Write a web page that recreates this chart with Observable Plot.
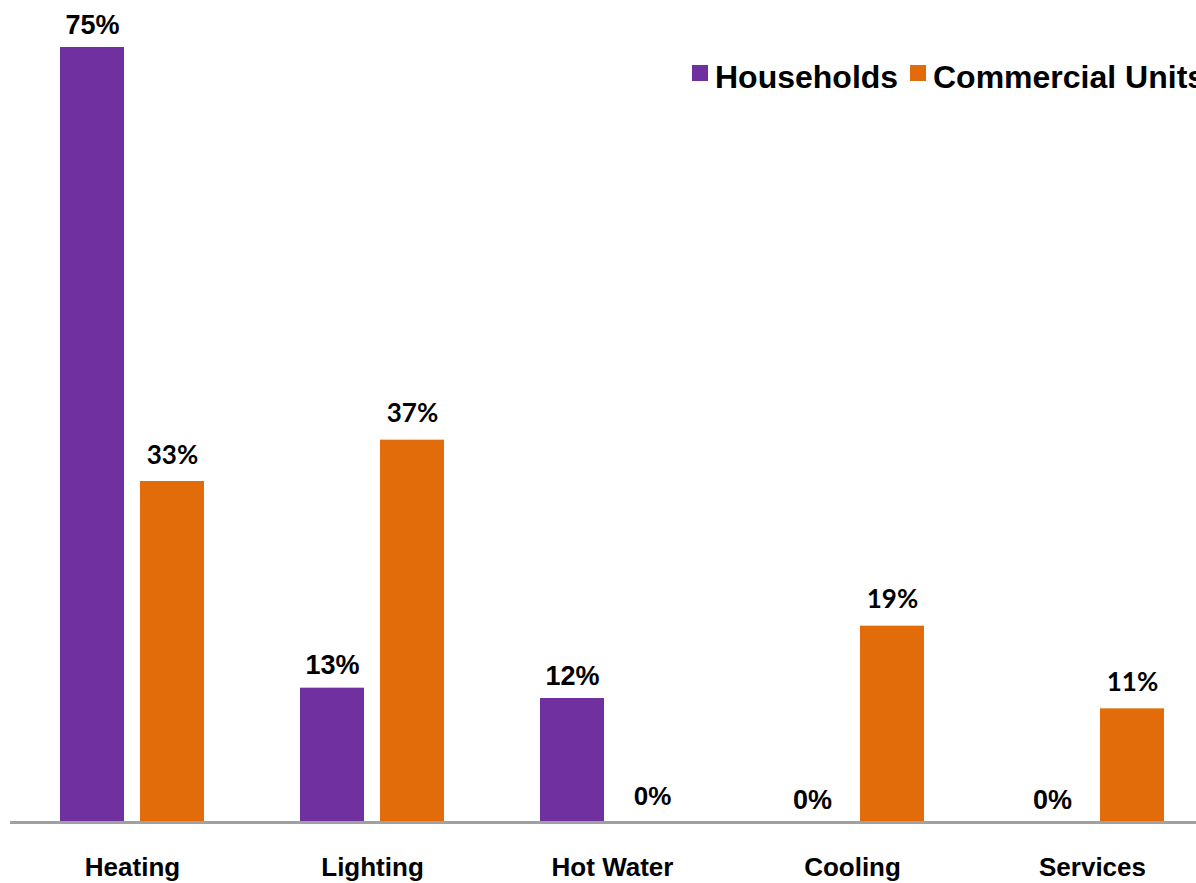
<!DOCTYPE html>
<html><head><meta charset="utf-8">
<script src="https://cdn.jsdelivr.net/npm/d3@7"></script>
<script src="https://cdn.jsdelivr.net/npm/@observablehq/plot@0.6"></script>
<style>
html,body{margin:0;padding:0;background:#fff;overflow:hidden;}
#wrap{position:relative;width:1196px;height:883px;overflow:hidden;}
.item{position:absolute;top:59px;display:flex;align-items:flex-start;white-space:nowrap;font-family:"Liberation Sans",Arial,sans-serif;font-weight:bold;font-size:32px;line-height:36px;color:#000;}
.sw{display:inline-block;width:16px;height:16px;margin-top:6px;margin-right:7px;}
</style></head><body><div id="wrap"></div>
<script>
const categories = ["Heating", "Lighting", "Hot Water", "Cooling", "Services"];
const series = ["Households", "Commercial Units"];
const households = [75, 13, 12, 0, 0];
const commercial = [33, 37, 0, 19, 11];
const colors = ["#7030A0", "#E36C0A"];

const rows = categories.flatMap((c, i) => [
  {category: c, series: series[0], value: households[i]},
  {category: c, series: series[1], value: commercial[i]}
]);
const hh = rows.filter(d => d.series === series[0]);
const cu = rows.filter(d => d.series === series[1]);
const arial = '"Liberation Sans", Arial, sans-serif';

const plot = Plot.plot({
  width: 1196, height: 883,
  marginTop: 47, marginBottom: 61, marginLeft: 10, marginRight: 0,
  style: {fontFamily: arial, background: "#fff", overflow: "visible", color: "#000"},
  x: {domain: categories, range: [12, 1212], padding: 0, label: null},
  y: {domain: [0, 75], axis: null},
  color: {domain: series, range: colors},
  marks: [
    Plot.barY(hh, {x: "category", y: "value", fill: "series", insetLeft: 48, insetRight: 128}),
    Plot.barY(cu, {x: "category", y: "value", fill: "series", insetLeft: 128, insetRight: 48}),
    Plot.ruleY([0], {stroke: "#A0A0A0", strokeWidth: 3}),
    Plot.text(hh, {x: "category", y: "value", text: d => d.value + "%", dx: -40, dy: -14,
      lineAnchor: "bottom", fontSize: 27, fontWeight: "bold", fill: "#000", fontFamily: arial}),
    Plot.text(cu.filter(d => d.value > 0), {x: "category", y: "value", text: d => d.value + "%", dx: 40, dy: -18,
      lineAnchor: "bottom", fontSize: 26, fontWeight: "bold", fill: "#000", fontFamily: "Lato"}),
    Plot.text(cu.filter(d => d.value === 0), {x: "category", y: "value", text: d => d.value + "%", dx: 40, dy: -18,
      lineAnchor: "bottom", fontSize: 26, fontWeight: "bold", fill: "#000", fontFamily: arial}),
    Plot.axisX({tickSize: 0, tickPadding: 35, fontSize: 26, fontWeight: "bold", label: null})
  ]
});
const wrap = document.getElementById("wrap");
wrap.appendChild(plot);

const legendLeft = [692, 910];
series.forEach((s, i) => {
  const item = document.createElement("div");
  item.className = "item";
  item.style.left = legendLeft[i] + "px";
  const sw = document.createElement("span");
  sw.className = "sw";
  sw.style.background = colors[i];
  const t = document.createElement("span");
  t.textContent = s;
  item.appendChild(sw);
  item.appendChild(t);
  wrap.appendChild(item);
});
</script></body></html>
